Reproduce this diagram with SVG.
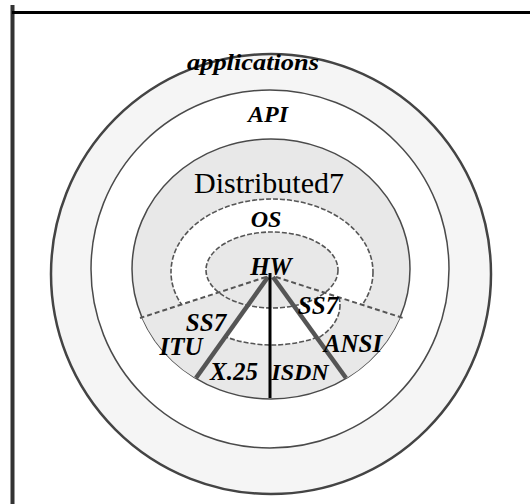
<svg xmlns="http://www.w3.org/2000/svg" width="530" height="504" viewBox="0 0 530 504">
<style>
.lbl{font-family:"Liberation Serif","Times New Roman",serif;font-weight:bold;font-style:italic;fill:#000;text-anchor:middle}
.ring{stroke:#4a4a4a;stroke-width:1.5}
.dot{stroke:#555;stroke-width:1.6;stroke-dasharray:5 2;fill:none}
.thick{stroke:#555;stroke-width:4.5;stroke-linecap:butt}
.dash{stroke:#555;stroke-width:2;stroke-dasharray:5 3;fill:none}
</style>
<defs>
<clipPath id="inner"><ellipse cx="271" cy="269" rx="139" ry="130"/></clipPath>
<clipPath id="rwedge"><polygon points="272,276 480,343 383,428"/></clipPath>
</defs>
<rect width="530" height="504" fill="#fff"/>
<g id="frame">
<line x1="12.5" y1="5" x2="12.5" y2="504" stroke="#333" stroke-width="4"/>
<line x1="12" y1="12.5" x2="530" y2="12.5" stroke="#000" stroke-width="3"/>
</g>
<g id="applications">
<circle cx="271" cy="274" r="220" fill="#f5f5f5" stroke="#444" stroke-width="2.5"/>
<text class="lbl" x="253" y="70" font-size="24" textLength="132" lengthAdjust="spacingAndGlyphs">applications</text>
</g>
<g id="api">
<circle cx="270" cy="269" r="179" fill="#fff" class="ring"/>
<text class="lbl" x="268" y="122" font-size="24">API</text>
</g>
<g id="distributed7">
<ellipse cx="271" cy="269" rx="139" ry="130" fill="#e8e8e8" class="ring"/>
<text x="269" y="193" font-family="Liberation Serif,'Times New Roman',serif" font-size="30" text-anchor="middle" fill="#000">Distributed7</text>
</g>
<g id="os">
<ellipse cx="272" cy="272" rx="101" ry="73" fill="#fff"/>
<ellipse cx="272" cy="272" rx="101" ry="73" class="dot"/>
<text class="lbl" x="266" y="227" font-size="24">OS</text>
</g>
<g id="sectors">
<polygon points="270,276 60,344 160,428" fill="#e8e8e8" clip-path="url(#inner)"/>
<polygon points="272,276 480,343 383,428" fill="#e8e8e8" clip-path="url(#inner)"/>
<g clip-path="url(#rwedge)">
<ellipse cx="272" cy="305" rx="68" ry="45" fill="#fff"/>
<ellipse cx="272" cy="305" rx="68" ry="45" class="dot"/>
</g>
</g>
<g id="hw">
<ellipse cx="272" cy="270" rx="66" ry="38" fill="#e8e8e8"/>
<ellipse cx="272" cy="270" rx="66" ry="38" class="dot"/>
<text class="lbl" x="271" y="275" font-size="25">HW</text>
</g>
<g id="connectors">
<line class="dash" x1="266" y1="277" x2="140" y2="318"/>
<line class="dash" x1="276" y1="277" x2="403" y2="318"/>
<line class="thick" x1="268" y1="277" x2="196" y2="378"/>
<line class="thick" x1="273" y1="277" x2="346" y2="378"/>
<line x1="270" y1="273" x2="270" y2="398" stroke="#000" stroke-width="3"/>
</g>
<g id="protocol-labels">
<text class="lbl" x="206" y="331" font-size="25">SS7</text>
<text class="lbl" x="181" y="355" font-size="25">ITU</text>
<text class="lbl" x="234" y="380" font-size="25">X.25</text>
<text class="lbl" x="300" y="380" font-size="24">ISDN</text>
<text class="lbl" x="318" y="314" font-size="25">SS7</text>
<text class="lbl" x="353" y="352" font-size="25">ANSI</text>
</g>
</svg>
